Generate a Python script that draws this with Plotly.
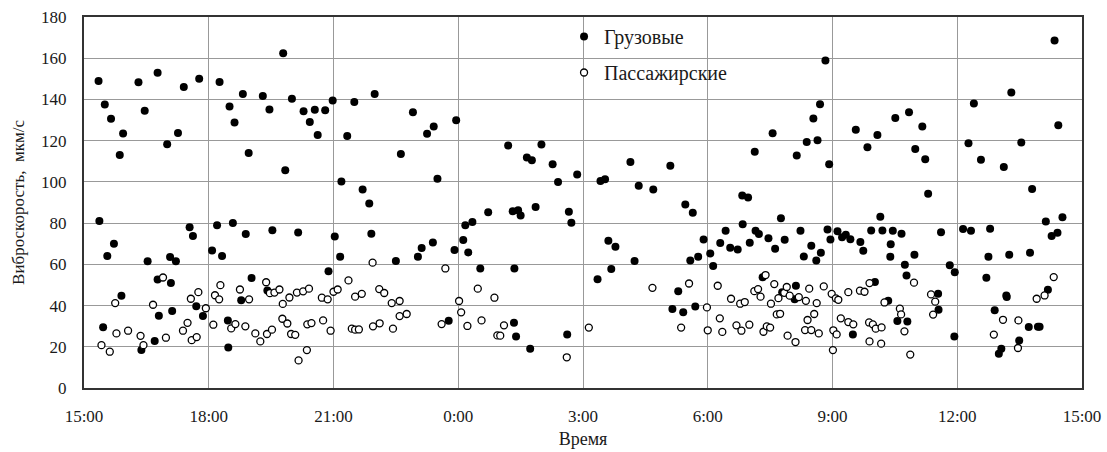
import plotly.graph_objects as go

# Time is stored as hours elapsed since 15:00 on day one (0 .. 24)
tick_hours = [0, 3, 6, 9, 12, 15, 18, 21, 24]
tick_labels = ["15:00", "18:00", "21:00", "0:00", "3:00", "6:00", "9:00", "12:00", "15:00"]

# Freight trains (filled markers)
cargo_hours = [
    0.35, 0.37, 0.50, 0.46, 0.56, 0.65, 0.72, 0.94, 0.86, 0.90, 1.31, 1.38, 1.46, 1.53, 1.70,
    1.77, 1.77, 1.80, 2.00, 2.07, 2.09, 2.12, 2.21, 2.26, 2.40, 2.54, 2.62, 2.70, 2.77, 2.86,
    3.08, 3.20, 3.26, 3.32, 3.46, 3.50, 3.47, 3.58, 3.62, 3.78, 3.82, 3.89, 3.96, 4.03, 4.30,
    4.41, 4.46, 4.53, 4.79, 4.84, 5.00, 5.15,
    5.28, 5.43, 5.55, 5.62, 5.80, 5.98, 5.88, 6.03, 6.16, 6.19, 6.33, 6.50, 6.70, 6.86, 6.91,
    6.99, 7.50, 7.62, 7.91, 8.03, 8.12, 8.25, 8.39, 8.41, 8.50, 8.77, 8.91, 8.95, 9.12, 9.17,
    9.24, 9.34, 9.53, 9.72,
    10.20, 10.31, 10.44, 10.50, 10.35, 10.34, 10.39, 10.65, 10.77, 10.73, 10.86, 11.00, 11.27,
    11.40, 11.66, 11.72, 11.62, 11.86, 12.35, 12.42, 12.53, 12.61, 12.68, 12.78, 13.14, 13.24,
    13.34, 13.69, 14.10, 14.15, 14.29, 14.41, 14.46, 14.58, 14.64, 14.70, 14.77,
    14.90, 15.06, 15.13, 15.30, 15.43, 15.54, 15.72, 15.83, 15.97, 15.84, 16.01, 16.13, 16.15,
    16.23, 16.32, 16.46, 16.56, 16.62, 16.76, 16.85, 16.79, 17.12, 17.09, 17.14, 17.23, 17.31,
    17.38, 17.49, 17.54, 17.61, 17.64, 17.70, 17.72, 17.83, 17.88, 17.92, 17.95, 18.12, 18.23,
    18.32, 18.43, 18.49, 18.56, 18.67, 18.74, 18.84, 18.93, 19.02, 19.08, 19.15, 19.20, 19.34,
    19.39, 19.40, 19.45, 19.51, 19.56,
    19.66, 19.74, 19.78, 19.80, 19.84, 19.97, 19.99, 20.16, 20.23, 20.30, 20.54, 20.55, 20.61,
    20.82, 20.94, 20.93, 21.14, 21.33, 21.27, 21.40, 21.57, 21.70, 21.75, 21.79, 21.90, 22.00,
    22.06, 22.12, 22.18, 22.19, 22.25, 22.30, 22.49, 22.54, 22.72, 22.75, 22.80, 22.94, 22.98,
    23.13, 23.18, 23.27, 23.34, 23.41, 23.43, 23.53,
]
cargo_values = [
    149.0, 81.0, 137.5, 29.5, 64.0, 130.6, 70.0, 123.5, 113.0, 44.7, 148.4, 18.4, 134.5, 61.5, 22.8,
    152.9, 52.6, 35.0, 118.3, 63.6, 50.9, 37.3, 61.5, 123.7, 146.0, 78.0, 73.8, 39.7, 150.1, 34.9,
    66.7, 79.0, 148.5, 64.0, 32.8, 136.6, 19.7, 80.0, 128.8, 42.6, 142.7, 74.7, 114.0, 53.4, 141.7,
    47.3, 135.1, 76.5, 162.4, 105.7, 140.3, 75.5,
    134.3, 129.0, 135.0, 122.7, 134.8, 139.5, 56.6, 73.5, 63.7, 100.2, 122.3, 138.8, 96.3, 89.5, 74.8,
    142.7, 61.6, 113.5, 133.8, 63.7, 67.9, 123.3, 70.6, 126.9, 101.5, 32.6, 66.9, 129.9, 71.8, 79.0,
    65.8, 80.5, 58.0, 85.3,
    117.7, 85.8, 86.3, 83.7, 58.0, 31.7, 25.0, 111.8, 110.5, 19.1, 87.8, 118.1, 108.6,
    100.0, 85.5, 80.2, 26.0, 103.6, 52.8, 100.4, 101.3, 71.4, 57.7, 68.5, 109.6, 61.6,
    98.1, 96.3, 107.8, 38.3, 47.0, 36.8, 89.0, 61.9, 85.0, 39.6, 63.7,
    72.1, 65.3, 59.2, 70.3, 76.3, 68.0, 67.2, 93.4, 92.4, 79.5, 70.5, 114.6, 76.3,
    74.7, 53.7, 72.7, 123.6, 67.6, 82.3, 71.9, 46.5, 49.6, 43.0, 112.8, 76.3, 63.8,
    119.4, 69.0, 130.7, 61.9, 120.2, 137.7, 65.6, 158.9, 76.9, 108.6, 72.0, 76.0, 73.2,
    74.3, 72.2, 26.0, 125.3, 70.8, 66.6, 116.8, 76.4, 51.4, 122.7, 83.1, 76.4, 42.3,
    63.7, 69.8, 76.3, 131.0, 32.5,
    74.8, 59.8, 54.6, 32.3, 133.8, 64.6, 115.9, 126.9, 111.0, 94.2, 45.7, 38.0, 75.6,
    59.5, 56.2, 25.0, 77.1, 76.3, 118.8, 138.0, 110.7, 53.5, 63.7, 77.3, 37.7, 16.6,
    19.1, 107.2, 44.9, 44.1, 64.6, 143.4, 23.0, 119.1, 29.6, 65.6, 96.6, 29.7, 29.7,
    80.8, 47.7, 73.7, 168.6, 75.3, 127.5, 82.9,
]

# Passenger trains (hollow markers)
passenger_hours = [
    0.42, 0.62, 0.75, 0.78, 1.06, 1.36, 1.43, 1.66, 1.90, 1.97, 2.38, 2.49, 2.57, 2.59, 2.71,
    2.75, 2.93, 3.11, 3.15, 3.25, 3.28, 3.54, 3.64, 3.75, 3.88, 3.97, 4.12, 4.24, 4.38, 4.40,
    4.47, 4.52, 4.58, 4.70, 4.77, 4.78, 4.89, 4.94, 4.98, 5.08, 5.12, 5.16,
    5.36, 5.27, 5.41, 5.37, 5.47, 5.72, 5.86, 5.75, 5.93, 6.00, 6.10, 6.36, 6.44, 6.52, 6.61,
    6.52, 6.68, 6.94, 6.95, 7.11, 7.10, 7.22, 7.40, 7.43, 7.59, 7.59, 7.76, 8.60, 8.69, 9.02,
    9.07, 9.22, 9.47, 9.56, 9.87, 9.94,
    10.10, 10.01, 11.61, 12.14, 13.67, 14.36, 14.55,
    14.98, 15.00, 15.24, 15.29, 15.35, 15.56, 15.69, 15.78, 15.81, 15.89, 16.00, 16.12, 16.21,
    16.27, 16.34, 16.39, 16.42, 16.50, 16.52, 16.60, 16.66, 16.70, 16.74, 16.84, 16.90, 16.92,
    16.97, 17.11, 17.19, 17.34, 17.36, 17.40, 17.44, 17.49, 17.56, 17.62, 17.67, 17.79, 17.98,
    18.02, 18.01, 18.10, 18.08, 18.14, 18.20, 18.38, 18.38, 18.50, 18.66, 18.77, 18.89, 18.88,
    18.97, 19.04, 19.18, 18.89, 19.17, 19.25,
    19.62, 19.65, 19.73, 19.87, 19.96, 20.37, 20.47, 20.42, 21.88, 22.10, 22.47, 22.46, 22.91,
    23.10, 23.32,
]
passenger_values = [
    20.8, 17.6, 41.2, 26.5, 27.8, 25.3, 20.8, 40.4, 53.6, 24.4, 27.8, 31.6, 43.3, 23.2, 24.7,
    46.5, 38.7, 30.7, 45.0, 43.0, 49.9, 28.9, 31.0, 47.8, 29.9, 43.0, 26.5, 22.6, 51.3, 26.2,
    46.0, 28.3, 46.3, 47.8, 33.6, 40.8, 31.3, 43.9, 26.2, 25.8, 46.3, 13.4,
    18.4, 46.9, 48.2, 30.9, 31.5, 43.8, 43.0, 32.8, 27.8, 46.7, 47.8, 52.2, 28.8, 28.3, 28.4,
    44.3, 45.7, 60.8, 29.9, 31.4, 48.0, 46.1, 41.2, 28.8, 42.2, 34.9, 35.9, 31.0, 58.0, 42.2,
    36.7, 30.1, 48.2, 32.8, 43.8, 25.5,
    30.4, 25.4, 14.9, 29.3, 48.6, 29.3, 50.7,
    39.1, 28.0, 49.6, 33.8, 27.2, 43.3, 30.4, 40.9, 27.8, 41.7, 30.7, 47.0, 48.0,
    44.3, 27.3, 54.8, 29.9, 29.3, 40.9, 50.4, 35.7, 43.6, 36.0, 46.2, 49.0, 25.4,
    44.8, 22.3, 44.1, 28.1, 42.3, 33.0, 48.2, 28.1, 35.9, 41.2, 26.5, 49.3, 45.7,
    28.0, 18.4, 26.0, 43.5, 42.8, 33.8, 46.5, 32.0, 30.9, 47.2, 46.7, 50.9, 31.8,
    30.9, 28.8, 29.4, 22.6, 21.5, 41.5,
    38.5, 35.7, 27.5, 16.2, 51.1, 45.4, 41.9, 35.6, 25.9, 33.1, 32.8, 19.4, 43.3,
    44.9, 53.8,
]

FONT = "Liberation Serif, Times New Roman, serif"
GRID = "#999999"
FRAME = "#333333"

fig = go.Figure()
fig.add_trace(go.Scatter(
    x=cargo_hours, y=cargo_values, mode="markers", name="Грузовые",
    legendgroup="cargo",
    marker=dict(symbol="circle", size=8, color="black", line=dict(width=0)),
))
fig.add_trace(go.Scatter(
    x=passenger_hours, y=passenger_values, mode="markers", name="Пассажирские",
    legendgroup="passenger",
    marker=dict(symbol="circle", size=7, color="white", line=dict(width=1.3, color="black")),
))

fig.update_layout(
    width=1107, height=452,
    margin=dict(l=84, r=25, t=17, b=64),
    paper_bgcolor="white", plot_bgcolor="white",
    font=dict(family=FONT, size=17, color="#1a1a1a"),
    showlegend=True,
    legend=dict(
        x=0.481, y=1.0, xanchor="left", yanchor="top",
        bgcolor="rgba(0,0,0,0)", borderwidth=0,
        font=dict(family=FONT, size=20, color="#1a1a1a"),
        traceorder="grouped", tracegroupgap=7,
    ),
    xaxis=dict(
        range=[0, 24], tickvals=tick_hours, ticktext=tick_labels,
        showgrid=True, gridcolor=GRID, gridwidth=1,
        zeroline=False, showline=True, linecolor=FRAME, linewidth=2, mirror=True,
        ticks="", ticklabelstandoff=12, automargin=False,
        title=dict(text="Время", font=dict(family=FONT, size=18), standoff=7),
    ),
    yaxis=dict(
        range=[0, 180], tick0=0, dtick=20,
        showgrid=True, gridcolor=GRID, gridwidth=1,
        zeroline=False, showline=True, linecolor=FRAME, linewidth=2, mirror=True,
        ticks="", ticklabelstandoff=12, automargin=False,
        title=dict(text="Виброскорость,  мкм/с", font=dict(family=FONT, size=17), standoff=12),
    ),
)

fig.write_html("out.html")
